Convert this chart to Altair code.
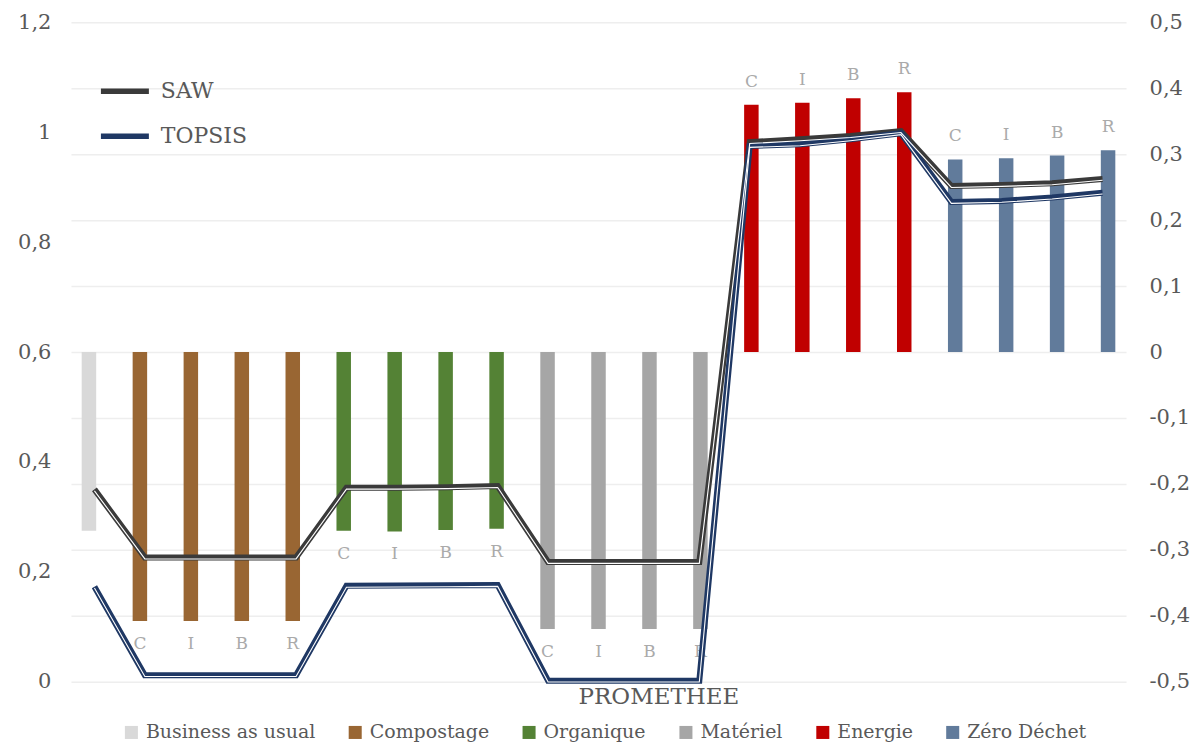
import altair as alt
import pandas as pd

groups = ["Business as usual", "Compostage", "Organique", "Matériel", "Energie", "Zéro Déchet"]
group_colors = ["#d9d9d9", "#996633", "#548235", "#a6a6a6", "#c00000", "#617b9b"]

cat_group = ["Business as usual"] + ["Compostage"] * 4 + ["Organique"] * 4 + ["Matériel"] * 4 + ["Energie"] * 4 + ["Zéro Déchet"] * 4
cat_sub = [""] + ["C", "I", "B", "R"] * 5

promethee = [-0.271,
             -0.408, -0.408, -0.408, -0.408,
             -0.271, -0.272, -0.270, -0.268,
             -0.420, -0.420, -0.420, -0.420,
             0.375, 0.378, 0.385, 0.394,
             0.292, 0.294, 0.298, 0.306]
saw = [0.350,
       0.226, 0.226, 0.226, 0.226,
       0.353, 0.353, 0.354, 0.356,
       0.218, 0.218, 0.218, 0.218,
       0.982, 0.987, 0.993, 1.002,
       0.902, 0.904, 0.907, 0.915]
topsis = [0.173,
          0.012, 0.012, 0.012, 0.012,
          0.1745, 0.175, 0.1755, 0.176,
          0.002, 0.002, 0.002, 0.002,
          0.975, 0.978, 0.987, 0.998,
          0.873, 0.875, 0.881, 0.890]

left_ticks = [0, 0.2, 0.4, 0.6, 0.8, 1.0, 1.2]
right_ticks = [-0.5, -0.4, -0.3, -0.2, -0.1, 0, 0.1, 0.2, 0.3, 0.4, 0.5]

cats = [f"{g} {s}".strip() for g, s in zip(cat_group, cat_sub)]
df = pd.DataFrame({"cat": cats, "group": cat_group, "sub": cat_sub, "prom": promethee})
df_lines = pd.DataFrame({
    "cat": cats * 2,
    "method": ["SAW"] * len(cats) + ["TOPSIS"] * len(cats),
    "value": saw + topsis,
})

FONT = "DejaVu Serif"
GREY = "#595959"
label_expr = "replace(toString(round(datum.value*10)/10), '.', ',')"

band = alt.Scale(type="band", domain=cats, paddingInner=0.5, paddingOuter=0.103)
prom_scale = alt.Scale(domain=[-0.5, 0.5], nice=False)
line_x = alt.Scale(type="point", domain=cats, padding=0.466)
line_y = alt.Scale(domain=[0, 1.2], nice=False)

bars = alt.Chart(df).mark_bar(size=14.5).encode(
    x=alt.X("cat:N", scale=band,
            axis=alt.Axis(title="PROMETHEE", labels=False, ticks=False, domain=False,
                          titleX=588, titleY=15, titleAlign="center", titleBaseline="middle")),
    y=alt.Y("prom:Q", scale=prom_scale,
            axis=alt.Axis(orient="right", values=right_ticks, grid=True, gridColor="#eeeeee",
                          gridWidth=1.5, ticks=False, domain=False, labelPadding=23,
                          labelExpr=label_expr, title=None)),
    fill=alt.Fill("group:N", scale=alt.Scale(domain=groups, range=group_colors),
                  legend=alt.Legend(orient="none", legendX=51, legendY=701, direction="horizontal",
                                    columns=6, title=None, symbolType="square", symbolSize=170,
                                    labelFontSize=19, columnPadding=30, labelOffset=5,
                                    labelLimit=400, symbolStrokeWidth=0)),
)

text_pos = alt.Chart(df).transform_filter("datum.prom > 0").mark_text(
    dy=-23, font=FONT, fontSize=17, color="#aaaaaa", baseline="middle"
).encode(
    x=alt.X("cat:N", scale=band, axis=None),
    y=alt.Y("prom:Q", scale=prom_scale, axis=None),
    text="sub:N",
)
text_neg = alt.Chart(df).transform_filter("datum.prom < 0 && datum.sub != ''").mark_text(
    dy=23, font=FONT, fontSize=17, color="#aaaaaa", baseline="middle"
).encode(
    x=alt.X("cat:N", scale=band, axis=None),
    y=alt.Y("prom:Q", scale=prom_scale, axis=None),
    text="sub:N",
)

lines = alt.Chart(df_lines).mark_line(strokeWidth=6).encode(
    x=alt.X("cat:N", scale=line_x, axis=None),
    y=alt.Y("value:Q", scale=line_y,
            axis=alt.Axis(orient="left", values=left_ticks, grid=False, ticks=False, domain=False,
                          labelPadding=20, minExtent=55, maxExtent=55, labelExpr=label_expr,
                          title=None)),
    stroke=alt.Stroke("method:N", scale=alt.Scale(domain=["SAW", "TOPSIS"], range=["#3a3a3a", "#1f3864"]),
                      legend=alt.Legend(orient="none", legendX=27, legendY=42, title=None,
                                        symbolType="stroke", symbolSize=2304, symbolStrokeWidth=5.5,
                                        labelFontSize=22, labelOffset=9, rowPadding=7,
                                        labelColor=GREY)),
)
lines_white = alt.Chart(df_lines).mark_line(strokeWidth=1.1, color="white", yOffset=1.4).encode(
    x=alt.X("cat:N", scale=line_x, axis=None),
    y=alt.Y("value:Q", scale=line_y, axis=None),
    detail="method:N",
)

chart = alt.layer(bars, text_pos, text_neg, lines, lines_white).resolve_scale(
    x="independent", y="independent"
).properties(
    width=1056, height=660,
    padding={"left": 8, "top": 3, "right": 5, "bottom": 0},
).configure_axis(
    labelFont=FONT, labelFontSize=21, labelColor=GREY,
    titleFont=FONT, titleFontSize=23, titleColor=GREY, titleFontWeight="normal",
).configure_legend(
    labelFont=FONT, labelColor=GREY,
).configure_view(stroke=None)

chart.save("out.html", embed_options={"renderer": "svg", "actions": False})
